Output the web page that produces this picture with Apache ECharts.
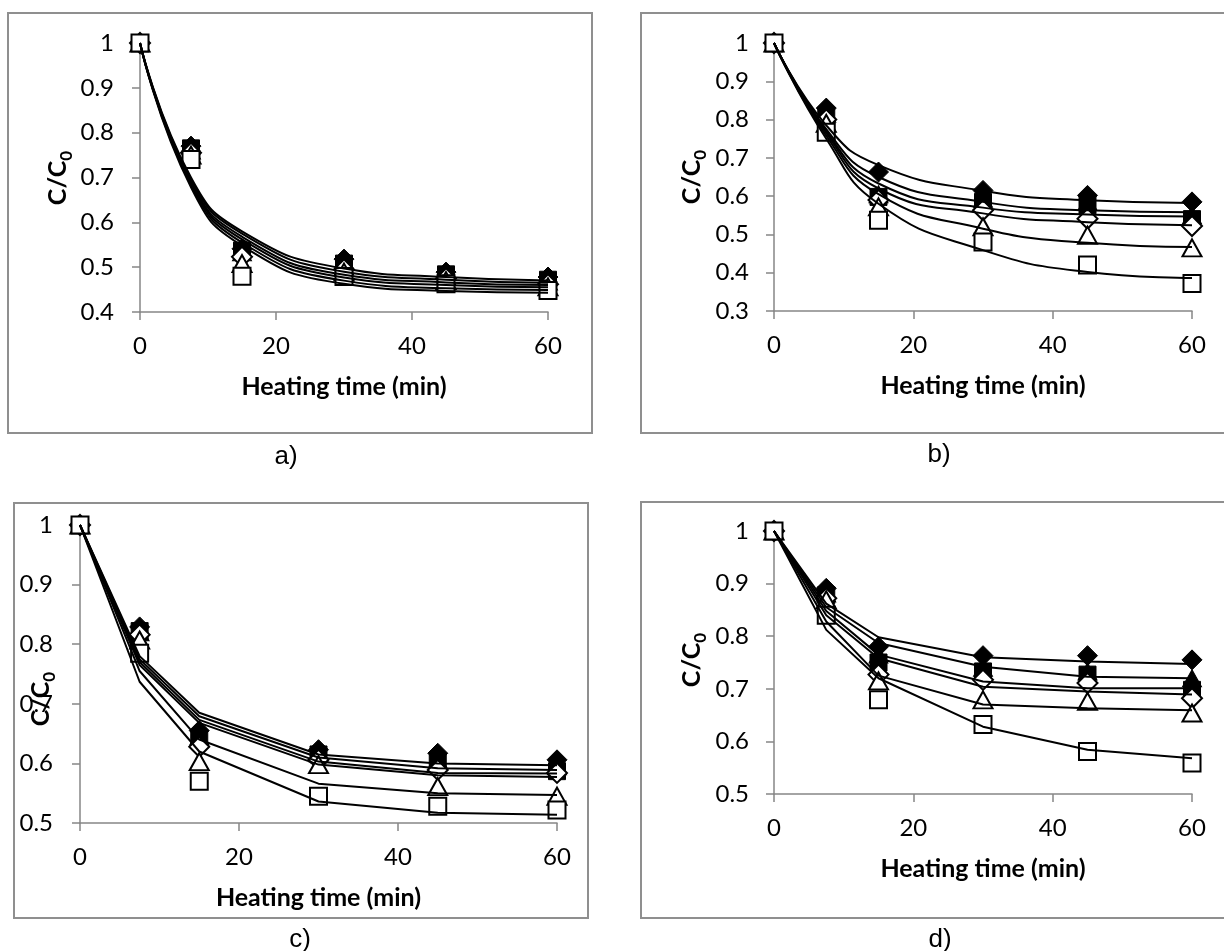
<!DOCTYPE html>
<html>
<head>
<meta charset="utf-8">
<title>c/c0 vs heating time</title>
<script src="https://cdn.jsdelivr.net/npm/echarts@6/dist/echarts.min.js"></script>
<style>
  html, body { margin: 0; padding: 0; background: #fff; }
  #chart { width: 1224px; height: 951px; }
</style>
</head>
<body>
<div id="chart"></div>
<script>
// heating times (min), shared by every panel
var times = [0, 7.5, 15, 30, 45, 60];

// measured c/c0, one row per marker: filled diamond, filled square, filled triangle,
// open diamond, open triangle, open square
var measuredA = [
    [1, 0.770, 0.541, 0.518, 0.489, 0.478],
    [1, 0.765, 0.537, 0.508, 0.484, 0.472],
    [1, 0.760, 0.533, 0.502, 0.480, 0.468],
    [1, 0.755, 0.523, 0.495, 0.475, 0.462],
    [1, 0.750, 0.508, 0.489, 0.470, 0.456],
    [1, 0.740, 0.480, 0.479, 0.463, 0.448]
];
var measuredB = [
    [1, 0.830, 0.663, 0.615, 0.602, 0.585],
    [1, 0.810, 0.598, 0.585, 0.576, 0.540],
    [1, 0.815, 0.605, 0.593, 0.585, 0.550],
    [1, 0.800, 0.590, 0.563, 0.541, 0.522],
    [1, 0.790, 0.572, 0.520, 0.498, 0.465],
    [1, 0.767, 0.537, 0.480, 0.420, 0.372]
];
var measuredC = [
    [1, 0.829, 0.655, 0.623, 0.617, 0.606],
    [1, 0.822, 0.640, 0.615, 0.600, 0.587],
    [1, 0.820, 0.645, 0.617, 0.606, 0.595],
    [1, 0.816, 0.628, 0.606, 0.589, 0.584],
    [1, 0.807, 0.603, 0.598, 0.561, 0.545],
    [1, 0.785, 0.570, 0.545, 0.528, 0.522]
];
var measuredD = [
    [1, 0.891, 0.780, 0.763, 0.763, 0.755],
    [1, 0.878, 0.750, 0.733, 0.727, 0.698],
    [1, 0.881, 0.765, 0.740, 0.733, 0.720],
    [1, 0.872, 0.727, 0.717, 0.711, 0.682],
    [1, 0.869, 0.715, 0.679, 0.676, 0.654],
    [1, 0.840, 0.679, 0.632, 0.581, 0.559]
];

// fitted model lines, same row order
var fittedA = [
    [1, 0.700, 0.580, 0.497, 0.478, 0.470],
    [1, 0.695, 0.575, 0.490, 0.472, 0.465],
    [1, 0.690, 0.568, 0.483, 0.466, 0.460],
    [1, 0.687, 0.562, 0.477, 0.460, 0.455],
    [1, 0.683, 0.555, 0.470, 0.453, 0.449],
    [1, 0.678, 0.548, 0.463, 0.447, 0.443]
];
var fittedB = [
    [1, 0.785, 0.681, 0.614, 0.589, 0.582],
    [1, 0.775, 0.650, 0.585, 0.563, 0.558],
    [1, 0.770, 0.633, 0.570, 0.552, 0.547],
    [1, 0.765, 0.620, 0.555, 0.532, 0.524],
    [1, 0.758, 0.605, 0.515, 0.478, 0.467],
    [1, 0.750, 0.580, 0.459, 0.402, 0.386]
];
var fittedC = [
    [1, 0.780, 0.685, 0.615, 0.600, 0.597],
    [1, 0.775, 0.679, 0.610, 0.592, 0.589],
    [1, 0.770, 0.673, 0.603, 0.584, 0.583],
    [1, 0.765, 0.668, 0.598, 0.580, 0.577],
    [1, 0.755, 0.640, 0.566, 0.550, 0.547],
    [1, 0.737, 0.620, 0.536, 0.517, 0.514]
];
var fittedD = [
    [1, 0.862, 0.798, 0.760, 0.752, 0.747],
    [1, 0.855, 0.787, 0.742, 0.723, 0.720],
    [1, 0.848, 0.765, 0.714, 0.701, 0.701],
    [1, 0.840, 0.758, 0.704, 0.695, 0.689],
    [1, 0.828, 0.725, 0.670, 0.663, 0.659],
    [1, 0.812, 0.720, 0.628, 0.584, 0.568]
];

var yMins = [0.4, 0.3, 0.5, 0.5];
var captions = ['a)', 'b)', 'c)', 'd)'];

// marker look for each row
var markers = [
    {symbol: 'diamond', size: 20, fill: '#000'},
    {symbol: 'rect', size: 17, fill: '#000'},
    {symbol: 'triangle', size: [19, 17], fill: '#000'},
    {symbol: 'diamond', size: 20, fill: '#fff'},
    {symbol: 'triangle', size: [19, 17], fill: '#fff'},
    {symbol: 'rect', size: 17, fill: '#fff'}
];

// layout of the four panels (pixels)
var panels = [
    {obs: measuredA, fit: fittedA, smooth: 0.5, grid: {left: 140, top: 43, width: 408, height: 269},
        box: [8, 13, 584, 420], yName: [60, 178], cap: [286, 457], ySide: 26},
    {obs: measuredB, fit: fittedB, smooth: 0.5, grid: {left: 774, top: 43, width: 418, height: 268},
        box: [641, 13, 600, 420], yName: [694, 177], cap: [939, 455], ySide: 25},
    {obs: measuredC, fit: fittedC, smooth: false, grid: {left: 80, top: 525, width: 477, height: 298},
        box: [14, 503, 574, 415], yName: [43, 699], cap: [300, 940], ySide: 27},
    {obs: measuredD, fit: fittedD, smooth: false, grid: {left: 774, top: 531, width: 418, height: 263},
        box: [641, 502, 600, 416], yName: [694, 660], cap: [940, 940], ySide: 25}
];

var axisGray = '#868686';
var grids = [], xAxes = [], yAxes = [], series = [], graphics = [];

function pairs(ys) {
    var out = [];
    for (var i = 0; i < times.length; i++) {
        out.push([times[i], ys[i]]);
    }
    return out;
}

panels.forEach(function (p, i) {
    grids.push(p.grid);

    xAxes.push({
        gridIndex: i,
        type: 'value',
        min: 0,
        max: 60,
        interval: 20,
        splitLine: {show: false},
        axisLine: {show: true, onZero: false, lineStyle: {color: axisGray, width: 1.5}},
        axisTick: {show: true, length: 8, lineStyle: {color: axisGray, width: 1.5}},
        axisLabel: {color: '#000', fontFamily: 'Lato', fontSize: 24, margin: 22},
        name: 'Heating time (min)',
        nameLocation: 'middle',
        nameGap: 62,
        nameTextStyle: {color: '#000', fontFamily: 'Lato', fontWeight: 'bold', fontSize: 25}
    });

    yAxes.push({
        gridIndex: i,
        type: 'value',
        min: yMins[i],
        max: 1,
        interval: 0.1,
        splitLine: {show: false},
        axisLine: {show: true, onZero: false, lineStyle: {color: axisGray, width: 1.5}},
        axisTick: {show: true, length: 8, lineStyle: {color: axisGray, width: 1.5}},
        axisLabel: {color: '#000', fontFamily: 'Lato', fontSize: 24, margin: p.ySide}
    });

    // measured points
    p.obs.forEach(function (row, k) {
        var m = markers[k];
        series.push({
            type: 'scatter',
            xAxisIndex: i,
            yAxisIndex: i,
            data: pairs(row),
            symbol: m.symbol,
            symbolSize: m.size,
            itemStyle: {color: m.fill, borderColor: '#000', borderWidth: m.fill === '#fff' ? 2 : 1, opacity: 1},
            z: 2
        });
    });

    // model lines on top
    p.fit.forEach(function (row) {
        series.push({
            type: 'line',
            xAxisIndex: i,
            yAxisIndex: i,
            data: pairs(row),
            smooth: p.smooth,
            showSymbol: false,
            symbol: 'none',
            lineStyle: {color: '#000', width: 2},
            z: 3
        });
    });

    graphics.push({
        type: 'rect',
        shape: {x: p.box[0], y: p.box[1], width: p.box[2], height: p.box[3]},
        style: {fill: null, stroke: '#8f8f8f', lineWidth: 2},
        silent: true
    });

    graphics.push({
        type: 'text',
        x: p.yName[0],
        y: p.yName[1],
        rotation: Math.PI / 2,
        style: {
            text: '{c|C/C}{s|0}',
            align: 'center',
            verticalAlign: 'middle',
            fill: '#000',
            rich: {
                c: {fontFamily: 'Lato', fontWeight: 'bold', fontSize: 25, lineHeight: 30, verticalAlign: 'top', fill: '#000'},
                s: {fontFamily: 'Lato', fontWeight: 'bold', fontSize: 17, lineHeight: 17, verticalAlign: 'bottom', fill: '#000'}
            }
        },
        z: 10
    });

    graphics.push({
        type: 'text',
        x: p.cap[0],
        y: p.cap[1],
        style: {
            text: captions[i],
            align: 'center',
            verticalAlign: 'middle',
            fill: '#000',
            fontFamily: 'Liberation Sans',
            fontSize: 26
        }
    });
});

var chart = echarts.init(document.getElementById('chart'), null, {renderer: 'canvas'});
chart.setOption({
    animation: false,
    backgroundColor: '#fff',
    grid: grids,
    xAxis: xAxes,
    yAxis: yAxes,
    series: series,
    graphic: graphics
});
</script>
</body>
</html>
